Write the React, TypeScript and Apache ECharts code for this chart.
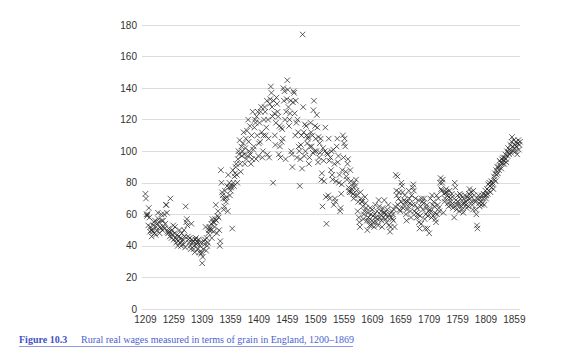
import React, { useEffect, useRef } from "react";
import * as echarts from "echarts";

const startYear = 1209;

const wages1209to1299 = [
  73, 70, 60, 59, 60, 53, 64, 58, 49, 52, 50,
  46, 50, 49, 53, 55, 48, 56, 47, 52, 50,
  54, 61, 57, 55, 48, 52, 51, 60, 56, 50,
  56, 52, 60, 51, 54, 66, 66, 61, 49, 48,
  51, 49, 46, 70, 48, 45, 50, 47, 53, 44,
  48, 52, 45, 42, 44, 47, 40, 43, 46, 50,
  42, 45, 40, 48, 43, 44, 41, 50, 46, 39,
  65, 55, 57, 53, 46, 44, 42, 45, 40, 38,
  54, 44, 42, 43, 38, 40, 36, 44, 45, 41,
];

const wages1300s = [
  43, 42, 38, 44, 36, 40, 42, 35, 36, 29,
  33, 38, 43, 41, 44, 52, 37, 45, 40, 42,
  48, 50, 52, 51, 50, 54, 45, 57, 55, 49,
  55, 52, 57, 66, 56, 48, 59, 62, 58, 50,
  40, 43, 88, 80, 74, 72, 70, 63, 65, 75,
  70, 68, 71, 78, 62, 85, 77, 80, 72, 75,
  77, 78, 51, 88, 80, 78, 84, 86, 90, 92,
  85, 80, 95, 100, 98, 107, 92, 87, 103, 97,
  100, 105, 112, 98, 92, 102, 108, 95, 113, 97,
  120, 106, 100, 116, 98, 92, 110, 95, 125, 101,
];

const wages1400s = [
  103, 115, 120, 118, 95, 122, 110, 125, 97, 105,
  118, 106, 125, 128, 112, 96, 100, 110, 120, 128,
  125, 110, 115, 132, 98, 120, 108, 96, 130, 133,
  141, 137, 128, 122, 80, 132, 124, 110, 104, 118,
  134, 130, 125, 122, 98, 116, 103, 96, 115, 106,
  114, 108, 140, 132, 138, 120, 95, 125, 133, 145,
  139, 128, 116, 120, 124, 132, 100, 98, 90, 131,
  138, 137, 124, 110, 132, 118, 96, 120, 112, 103,
  100, 78, 95, 104, 110, 89, 174, 128, 112, 97,
  117, 100, 116, 110, 105, 108, 109, 92, 96, 103,
];

const wages1500s = [
  118, 112, 103, 110, 99, 126, 132, 100, 116, 108,
  100, 123, 115, 93, 109, 96, 105, 99, 108, 82,
  86, 65, 102, 94, 81, 100, 115, 71, 54, 99,
  98, 72, 108, 94, 70, 96, 88, 100, 85, 82,
  101, 66, 92, 70, 68, 81, 103, 108, 93, 97,
  80, 85, 62, 64, 73, 79, 88, 110, 96, 105,
  108, 103, 87, 84, 82, 92, 95, 77, 75, 74,
  88, 81, 74, 76, 78, 73, 70, 80, 72, 78,
  82, 75, 72, 62, 68, 58, 55, 52, 74, 70,
  68, 68, 65, 57, 60, 62, 71, 67, 64, 56,
];

const wages1600s = [
  50, 61, 58, 56, 53, 64, 60, 53, 56, 63,
  59, 55, 52, 60, 66, 58, 55, 62, 57, 53,
  69, 65, 58, 60, 62, 56, 52, 64, 58, 61,
  69, 61, 57, 60, 55, 63, 58, 66, 53, 60,
  49, 52, 58, 62, 57, 60, 56, 63, 52, 65,
  85, 75, 72, 84, 66, 70, 74, 63, 62, 68,
  80, 78, 74, 64, 66, 69, 72, 68, 60, 56,
  63, 68, 65, 75, 70, 67, 62, 58, 72, 66,
  77, 79, 75, 62, 66, 70, 61, 58, 64, 60,
  69, 55, 51, 59, 65, 54, 70, 68, 63, 67,
];

const wages1700s = [
  70, 57, 51, 60, 64, 66, 51, 59, 62, 48,
  63, 70, 62, 58, 72, 66, 59, 68, 65, 61,
  57, 55, 72, 60, 66, 70, 64, 62, 80, 83,
  76, 75, 80, 82, 61, 73, 68, 70, 74, 76,
  74, 72, 67, 65, 71, 75, 70, 68, 66, 73,
  71, 64, 66, 58, 80, 77, 69, 63, 66, 72,
  68, 66, 62, 73, 70, 72, 65, 63, 67, 61,
  70, 67, 72, 68, 66, 64, 71, 69, 65, 73,
  76, 70, 72, 74, 68, 66, 63, 75, 72, 69,
  68, 63, 60, 53, 51, 70, 72, 67, 65, 70,
];

const wages1800to1869 = [
  68, 66, 72, 67, 70, 73, 66, 72, 75, 70,
  72, 76, 73, 79, 75, 80, 78, 74, 81, 77,
  79, 80, 76, 84, 82, 86, 81, 88, 85, 90,
  86, 90, 88, 94, 91, 93, 89, 95, 92, 96,
  94, 92, 96, 98, 95, 93, 100, 97, 102, 99,
  98, 101, 104, 99, 106, 109, 103, 100, 107, 102,
  104, 100, 106, 103, 98, 105, 107, 101, 104, 106,
];

const xTickLabels = [1209, 1259, 1309, 1359, 1409, 1459, 1509, 1559, 1609, 1659, 1709, 1759, 1809, 1859];

const figureLabel = "Figure 10.3";
const captionText = "Rural real wages measured in terms of grain in England, 1200–1869";

export default function App() {
  const ref = useRef<HTMLDivElement>(null);
  useEffect(() => {
    if (!ref.current) return;
    const chart = echarts.init(ref.current, null, { renderer: "svg" });
    const all = [
      ...wages1209to1299,
      ...wages1300s,
      ...wages1400s,
      ...wages1500s,
      ...wages1600s,
      ...wages1700s,
      ...wages1800to1869,
    ];
    const data = all.map((v, i) => [startYear + i, v]);
    const labelFont = { fontSize: 10, color: "#333", fontFamily: "Liberation Sans, Arial, sans-serif" };
    chart.setOption({
      animation: false,
      backgroundColor: "#fff",
      grid: { left: 142, right: 62, top: 25, bottom: 50 },
      xAxis: {
        type: "value",
        min: 1203,
        max: 1869,
        axisLine: { show: false },
        axisTick: { show: false },
        splitLine: { show: false },
        axisLabel: {
          ...labelFont,
          margin: 5,
          customValues: xTickLabels,
          formatter: (v: number) => String(v),
        },
      },
      yAxis: {
        type: "value",
        min: 0,
        max: 180,
        interval: 20,
        axisLine: { show: false },
        axisTick: { show: false },
        splitLine: { lineStyle: { color: "#dcdcdc", width: 1 } },
        axisLabel: { ...labelFont, margin: 5 },
      },
      series: [
        {
          type: "scatter",
          data,
          symbol: "path://M0,0L10,10M10,0L0,10",
          symbolSize: 5.5,
          itemStyle: { color: "rgba(0,0,0,0)", borderColor: "#222", borderWidth: 0.9 },
        },
      ],
      graphic: [
        {
          type: "text",
          left: 19,
          top: 334,
          style: { text: figureLabel, font: 'bold 10px "Liberation Serif", serif', fill: "#3f52c4" },
        },
        {
          type: "text",
          left: 81,
          top: 334,
          style: { text: captionText, font: '10px "Liberation Serif", serif', fill: "#4b5fd0" },
        },
        {
          type: "line",
          shape: { x1: 19, y1: 346.5, x2: 353, y2: 346.5 },
          style: { stroke: "#7080da", lineWidth: 0.8 },
        },
      ],
    });
    return () => chart.dispose();
  }, []);
  return <div ref={ref} style={{ position: "fixed", left: 0, top: 0, width: 582, height: 359 }} />;
}
